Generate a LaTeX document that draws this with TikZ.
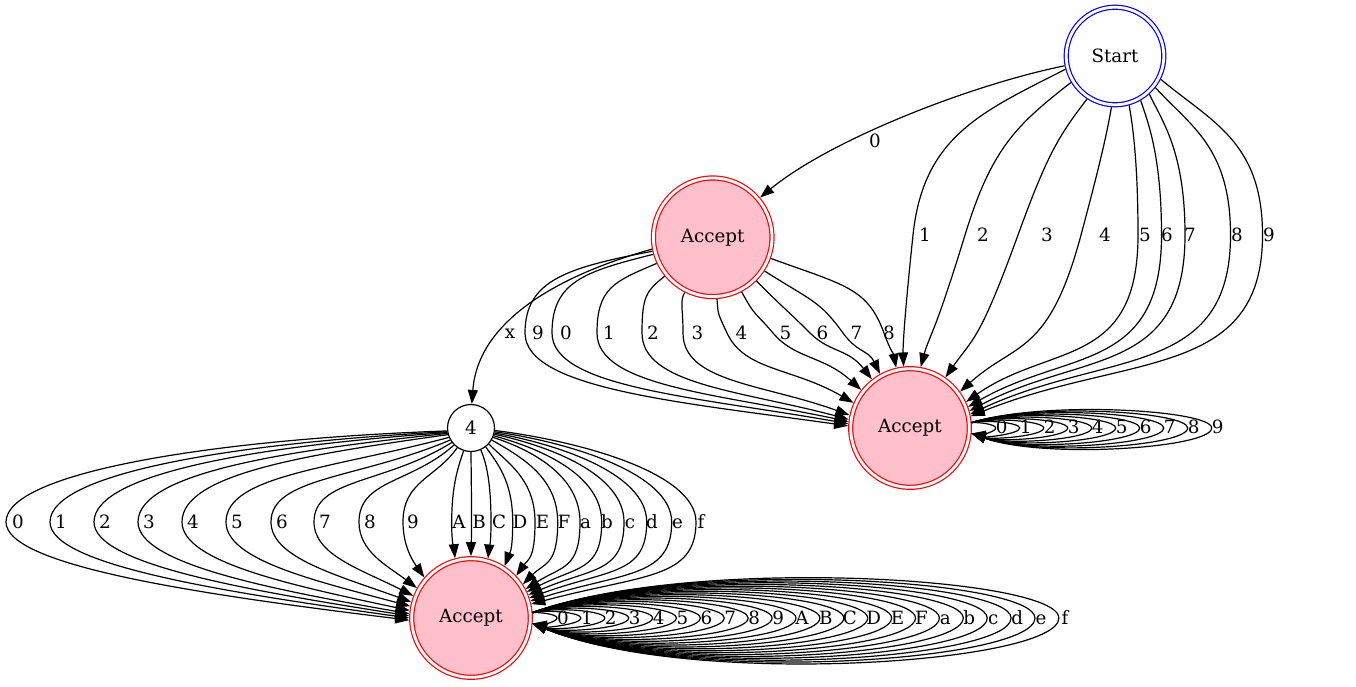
\documentclass[tikz,border=0pt]{standalone}
\usepackage{fontspec}
\setmainfont{DejaVu Serif}
\usetikzlibrary{arrows.meta,calc}
\definecolor{gvpink}{RGB}{255,192,203}
\newcommand{\edgegroup}[4]{%
  \foreach \sa/\sd/\xm/\ma/\ea/\ed/\lab/\lx in {#4} {%
    \draw[edge] let \p1=(#1.\sa), \p2=(#2.\ea),
      \n1={\ka*abs(\x1-\xm)+10}, \n2={\kb*abs(\y1+#3)},
      \n3={\kc*abs(\y2+#3)}, \n4={\kd*abs(\x2-\xm)+8}
      in (\p1) .. controls +(\sd:\n1) and +(\ma:\n2) .. (\xm,-#3)
         .. controls +({\ma+180}:\n3) and +(\ed:\n4) .. (\p2);
    \node[lbl] at (\lx,-#3) {\lab};
  }}
\begin{document}
\begin{tikzpicture}[x=1pt,y=1pt,
  every node/.style={font=\fontsize{18.3}{22}\selectfont},
  lbl/.style={inner sep=0pt, text height=13.3pt, text depth=0pt},
  edge/.style={line width=1.2pt, -{Triangle[length=14pt,width=10pt]}},
  acc/.style={circle, draw=red, fill=gvpink, double=white, double distance=2.8pt,
    line width=1.2pt, minimum size=118.6pt, inner sep=0pt, outer sep=2.6pt},
  startst/.style={circle, draw=blue, double=white, double distance=2.8pt,
    line width=1.2pt, minimum size=97.6pt, inner sep=0pt, outer sep=2.6pt},
  plainst/.style={circle, draw, line width=1.2pt, minimum size=47pt, inner sep=0pt}]
\useasboundingbox (0,0) rectangle (1356,-687);
\node[startst] (S) at (1115,-56) {Start};
\node[acc] (A1) at (712.7,-237.3) {Accept};
\node[acc] (A2) at (910,-428) {Accept};
\node[plainst] (N4) at (471,-428) {4};
\node[acc] (A3) at (471,-618) {Accept};

% Start -> A1
\draw[edge] (S.191) .. controls (970,-85) and (830,-140) .. (A1.40);
\node[lbl] at (875,-141) {0};

% A1 -> 4
\draw[edge] (A1.191) .. controls (560,-275) and (478,-320) .. (N4.88);
\node[lbl] at (510,-332) {x};

% Start -> A2
\def\ka{0.55}\def\kb{0.6}\def\kc{0.8}\def\kd{0.55}
\edgegroup{S}{A2}{235}{195/207/913/84/96/92/1/925,
 211/218/965/73/80/75/2/983,
 237/232/1018/70/55/55/3/1047,
 266/260/1081/75/36/42/4/1105,
 286/280/1138/90/25/35/5/1145,
 300/288/1161.5/90/20/30/6/1167,
 312/295/1185/90/16/28/7/1190,
 322/312/1230.5/90/13/25/8/1237,
 333/320/1262.5/90/11/22/9/1269}

% A1 -> A2
\def\ka{0.6}\def\kb{0.65}\def\kc{0.6}\def\kd{0.5}
\edgegroup{A1}{A2}{333}{193/191/525/90/178/172/9/538,
 196/194/552/90/176/170/0/566,
 205/203/597/90/174/168/1/609,
 219/219/642/90/172/165/2/653,
 243/243/683/90/168/160/3/697.5,
 274/274/727/115/156/150/4/741.5,
 298/298/773/130/142/138/5/785.5,
 315/315/810/135/128/128/6/822.5,
 327.5/327.5/843/126/119/116/7/856.5,
 340/340/884/110/103/100/8/889}

% 4 -> A3 (left group)
\def\ka{0.5}\def\kb{0.55}\def\kc{0.45}\def\kd{0.5}
\edgegroup{N4}{A3}{522}{187/182/6/90/182/173/0/18,
 189/183/50/90/180/172/1/61,
 191/184/94/90/178/171/2/105,
 193/186/138/90/176/170/3/149,
 196/188/182/90/173/168/4/193,
 203/195/226/90/169/165/5/237,
 210/203/271/90/165/160/6/282,
 217/212/314/90/159/153/7/325,
 225/222/359/90/151/143/8/370,
 235/235/403/90/139/125/9/413}

% 4 -> A3 (right group)
\def\ka{0.35}\def\kb{0.55}\def\kc{0.7}\def\kd{0.65}
\edgegroup{N4}{A3}{522}{252/252/451.7/90/105/95/A/459,
 270/270/471.5/90/90/90/B/479,
 294/294/491/90/74/85/C/499,
 308/305/512.7/90/57/70/D/520,
 318/315/535/90/43/55/E/542.5,
 330/330/557.7/90/33/45/F/564,
 337/342/580/90/28/32/a/585.5,
 341/345/601.7/90/25/27/b/607,
 345/348/624/90/22/23/c/630,
 348/350/646.7/90/19/20/d/652,
 351/352/671.7/90/16/17/e/677.5,
 354/353/696/90/13/15/f/701}

% A2 self loops
\foreach \k in {0,...,9} {
  \pgfmathsetmacro\lx{1001.7+24*\k}
  \pgfmathsetmacro\xm{\lx-6}
  \pgfmathsetmacro\hh{4.2+1.76*\k}
  \pgfmathsetmacro\cx{971.8+0.3*(\xm-971.8)}
  \draw[edge] (A2.5) .. controls (\cx,{-428+1.4*\hh}) and (\xm,{-428+0.9*\hh}) .. (\xm,-428)
     .. controls (\xm,{-428-1.0*\hh}) and (\cx,{-428-1.57*\hh}) .. (A2.355);
  \node[lbl] at (\lx,-427) {\k};
}

% A3 self loops
\foreach \lab [count=\k from 0] in {0,1,2,3,4,5,6,7,8,9,A,B,C,D,E,F,a,b,c,d,e,f} {
  \pgfmathsetmacro\lx{563+23.9*\k}
  \pgfmathsetmacro\xm{\lx-6}
  \pgfmathsetmacro\hh{4.2+1.95*\k}
  \pgfmathsetmacro\cx{532.7+0.3*(\xm-532.7)}
  \draw[edge] (A3.5) .. controls (\cx,{-618+1.4*\hh}) and (\xm,{-618+0.9*\hh}) .. (\xm,-618)
     .. controls (\xm,{-618-1.0*\hh}) and (\cx,{-618-1.57*\hh}) .. (A3.355);
  \node[lbl] at (\lx,-618) {\lab};
}
\end{tikzpicture}
\end{document}
